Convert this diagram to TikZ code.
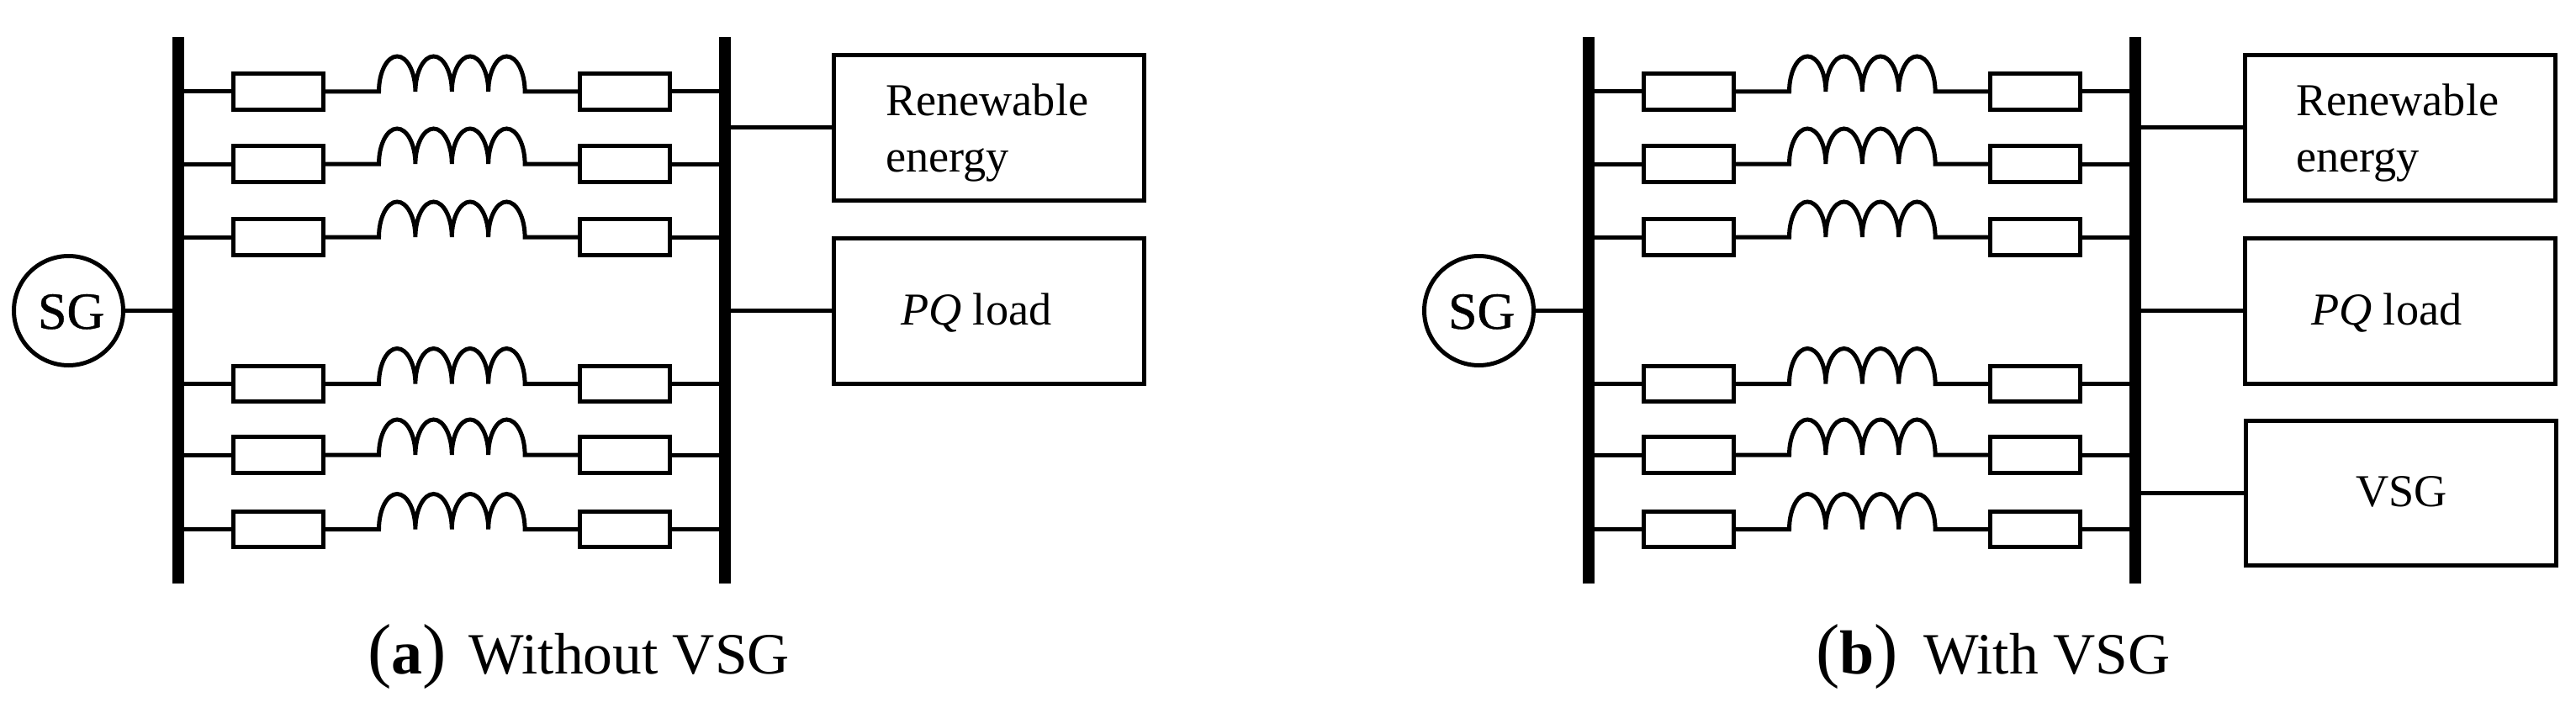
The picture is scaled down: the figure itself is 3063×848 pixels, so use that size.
\documentclass[tikz,border=0pt]{standalone}
\usepackage{fontspec}
\setmainfont{Liberation Serif}
\newfontfamily\sgfont{Liberation Serif}[FakeBold=0.7]
\newcommand{\lbl}{\fontsize{54.3}{67}\selectfont}
\newcommand{\capmark}[1]{{\fontsize{85}{85}\selectfont(}{\fontsize{74}{74}\selectfont\textbf{#1}}{\fontsize{85}{85}\selectfont)}}
\tikzset{
    wire/.style={line width=5pt},
    bus/.style={fill=black, draw=none, inner sep=0pt, outer sep=0pt, minimum width=13.5pt, minimum height=650pt},
    res/.style={draw, wire, inner sep=0pt, outer sep=0pt, minimum width=107pt, minimum height=42.5pt},
    box/.style={draw, line width=5pt, inner sep=0pt, outer sep=0pt, minimum width=369pt, minimum height=173pt},
    gen/.style={draw, wire, circle, inner sep=0pt, outer sep=0pt, minimum size=130pt},
    lab/.style={inner sep=0pt, outer sep=0pt, anchor=base west, font=\lbl},
    sglab/.style={inner sep=0pt, outer sep=0pt, anchor=base west, font=\sgfont\fontsize{62}{62}\selectfont},
    subcap/.style={inner sep=0pt, outer sep=0pt, anchor=base west, font=\fontsize{69.5}{70}\selectfont},
    bump/.style={start angle=180, end angle=0, x radius=21.7pt, y radius=42pt},
}
\begin{document}
\begin{tikzpicture}[x=1pt,y=-1pt]
  \useasboundingbox (0,0) rectangle (3063,848);
  \foreach \p/\dx/\bx in {a/0/1176,b/1677/1177}{
    \begin{scope}[xshift=\dx pt, name prefix=\p-]
      \node[bus] (bl) at (212,369) {};
      \node[bus] (br) at (862,369) {};
      \node[gen] (sg) at (81.5,369.5) {};
      \node[sglab] (sgt) at (45,391) {SG};
      \draw[wire] (sg.east) -- (bl.west |- sg.east);
      % six branches: R - L - R
      \foreach \r/\y in {1/109,2/195,3/282,4/456.5,5/541,6/629.5}{
        \node[res] (r\r) at (331,\y) {};
        \node[res] (s\r) at (743,\y) {};
        \coordinate (li\r) at (450.5,\y);
        \draw[wire] (bl.east |- r\r.west) -- (r\r.west);
        \draw[wire] (s\r.east) -- (br.west |- s\r.east);
        \draw[wire] (r\r.east) -- (li\r) arc[bump] arc[bump] arc[bump] arc[bump] -- (s\r.west);
      }
      \node[box] (re) at (\bx,152) {};
      \node[box] (pq) at (\bx,369.5) {};
      \draw[wire] (br.east |- re.west) -- (re.west);
      \draw[wire] (br.east |- pq.west) -- (pq.west);
      \node[lab] (t1) at (1053,137.5) {Renewable};
      \node[lab] (t2) at (1053,204.5) {energy};
      \node[lab] (t3) at (1071,386) {\textit{PQ} load};
    \end{scope}
  }
  \node[box, minimum height=172pt] (vsg) at (2855,586) {};
  \draw[wire] (b-br.east |- vsg.west) -- (vsg.west);
  \node[lab] (t4) at (2801,602.5) {VSG};
  \node[subcap] (ca) at (437,801) {\capmark{a}\hspace{27pt}Without VSG};
  \node[subcap] (cb) at (2159,801) {\capmark{b}\hspace{31pt}With VSG};
\end{tikzpicture}
\end{document}
